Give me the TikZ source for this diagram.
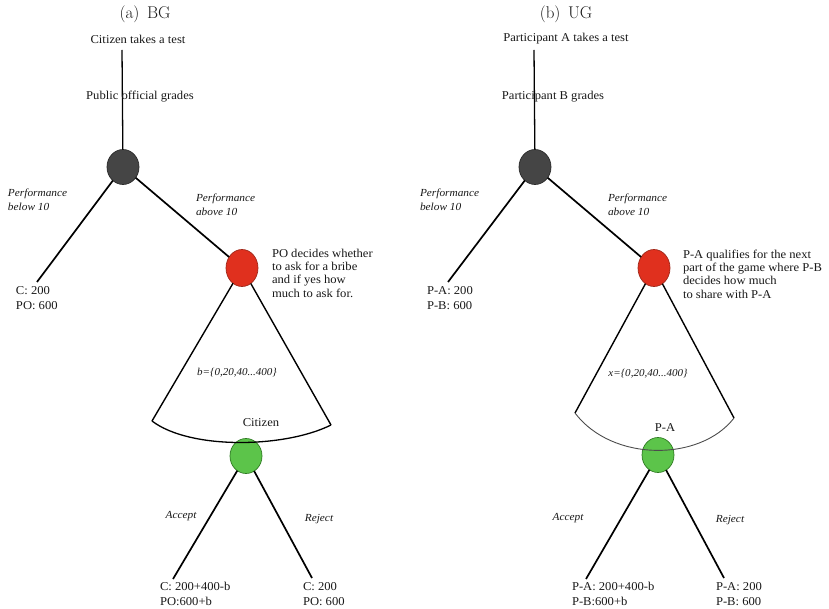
\documentclass[tikz,border=0pt]{standalone}
\usepackage{fontspec}
\newfontfamily\bodyfont[FakeStretch=1.05]{Liberation Serif}
\usetikzlibrary{shapes.geometric}
\definecolor{txt}{HTML}{181818}
\definecolor{darkfill}{HTML}{454545}
\definecolor{darkline}{HTML}{2A2A2A}
\definecolor{redfill}{HTML}{E0301E}
\definecolor{redline}{HTML}{A0281A}
\definecolor{greenfill}{HTML}{5CC44A}
\definecolor{greenline}{HTML}{2E7A22}
\begin{document}
\begin{tikzpicture}[x=1pt,y=-1pt,
  every node/.style={inner sep=0pt, outer sep=0pt, text=txt},
  ttl/.style={font=\fontsize{17}{19}\selectfont},
  lbl/.style={font=\bodyfont\fontsize{12}{13}\selectfont},
  lab/.style={font=\bodyfont\itshape\fontsize{10.8}{14}\selectfont, align=left, anchor=west},
  pay/.style={font=\bodyfont\fontsize{12}{14.5}\selectfont, align=left, anchor=west},
  note/.style={font=\bodyfont\fontsize{12}{13.3}\selectfont, align=left, anchor=west},
  rng/.style={font=\bodyfont\itshape\fontsize{10.5}{11}\selectfont},
  stem/.style={line width=1.3pt, draw=black},
  branch/.style={line width=1.7pt, draw=black},
  fan/.style={line width=1.4pt, draw=black},
  node0/.style={ellipse, minimum width=32pt, minimum height=35pt, line width=0.7pt},
  darknode/.style={node0, fill=darkfill, draw=darkline},
  rednode/.style={node0, fill=redfill, draw=redline, minimum height=37pt},
  greennode/.style={node0, fill=greenfill, draw=greenline},
]
\useasboundingbox (0,0) rectangle (829,609);

% ================= (a) BG =================
\node[ttl] (ta) at (145,14) {(a)\hspace{0.45em}BG};
\node[lbl] (s1) at (138,39) {Citizen takes a test};
\coordinate (t1) at (122,50);
\node[darknode] (d1) at (123,167) {};
\draw[stem] (t1) -- (d1);
\node[lbl] (g1) at (140,97) {Public official grades};

\coordinate (l1) at (37,282);
\node[rednode] (r1) at (242,268) {};
\draw[branch] (d1) -- (l1);
\draw[branch] (d1) -- (r1);
\node[lab] (pb1) at (8,200) {Performance\\below 10};
\node[lab] (pa1) at (196,205) {Performance\\above 10};
\node[pay] (c1) at (16,298) {C: 200\\PO: 600};
\node[note] (n1) at (272,273) {PO decides whether\\to ask for a bribe\\and if yes how\\much to ask for.};

\coordinate (fl1) at (152,421);
\coordinate (fr1) at (331,425);
\draw[fan] (r1) -- (fl1);
\draw[fan] (r1) -- (fr1);
\node[rng] (b1) at (237,373) {b=\{0,20,40...400\}};

\node[greennode] (gr1) at (246,456) {};
\draw[line width=1.3pt] (fl1) .. controls (190,450) and (285,448) .. (fr1);
\node[lbl] (ci1) at (261,423) {Citizen};

\coordinate (ea1) at (173,579);
\coordinate (er1) at (312,578);
\draw[branch] (gr1) -- (ea1);
\draw[branch] (gr1) -- (er1);
\node[lab, anchor=center] (ac1) at (181,516) {Accept};
\node[lab, anchor=center] (rj1) at (319,519) {Reject};
\node[pay] (pa1x) at (160,594) {C: 200+400-b\\PO:600+b};
\node[pay] (pr1x) at (303,594) {C: 200\\PO: 600};

% ================= (b) UG =================
\node[ttl] (tb) at (566,14) {(b)\hspace{0.45em}UG};
\node[lbl] (s2) at (566,39) {Participant A takes a test};
\coordinate (t2) at (534,50);
\node[darknode] (d2) at (535,167) {};
\draw[stem] (t2) -- (d2);
\node[lbl] (g2) at (553,97) {Participant B grades};

\coordinate (l2) at (448,282);
\node[rednode] (r2) at (654,268) {};
\draw[branch] (d2) -- (l2);
\draw[branch] (d2) -- (r2);
\node[lab] (pb2) at (420,200) {Performance\\below 10};
\node[lab] (pa2) at (608,205) {Performance\\above 10};
\node[pay] (c2) at (427,298) {P-A: 200\\P-B: 600};
\node[note] (n2) at (683,274) {P-A qualifies for the next\\part of the game where P-B\\decides how much\\to share with P-A};

\coordinate (fl2) at (575,413);
\coordinate (fr2) at (734,418);
\draw[fan] (r2) -- (fl2);
\draw[fan] (r2) -- (fr2);
\node[rng] (x2) at (648,374) {x=\{0,20,40...400\}};

\node[greennode] (gr2) at (658,455) {};
\draw[line width=0.9pt, draw=black!70] (fl2) .. controls (612,462) and (700,462) .. (fr2);
\node[lbl] (pa2l) at (665,428) {P-A};

\coordinate (ea2) at (586,579);
\coordinate (er2) at (724,578);
\draw[branch] (gr2) -- (ea2);
\draw[branch] (gr2) -- (er2);
\node[lab, anchor=center] (ac2) at (568,518) {Accept};
\node[lab, anchor=center] (rj2) at (730,520) {Reject};
\node[pay] (pa2x) at (572,594) {P-A: 200+400-b\\P-B:600+b};
\node[pay] (pr2x) at (716,594) {P-A: 200\\P-B: 600};
\end{tikzpicture}
\end{document}
